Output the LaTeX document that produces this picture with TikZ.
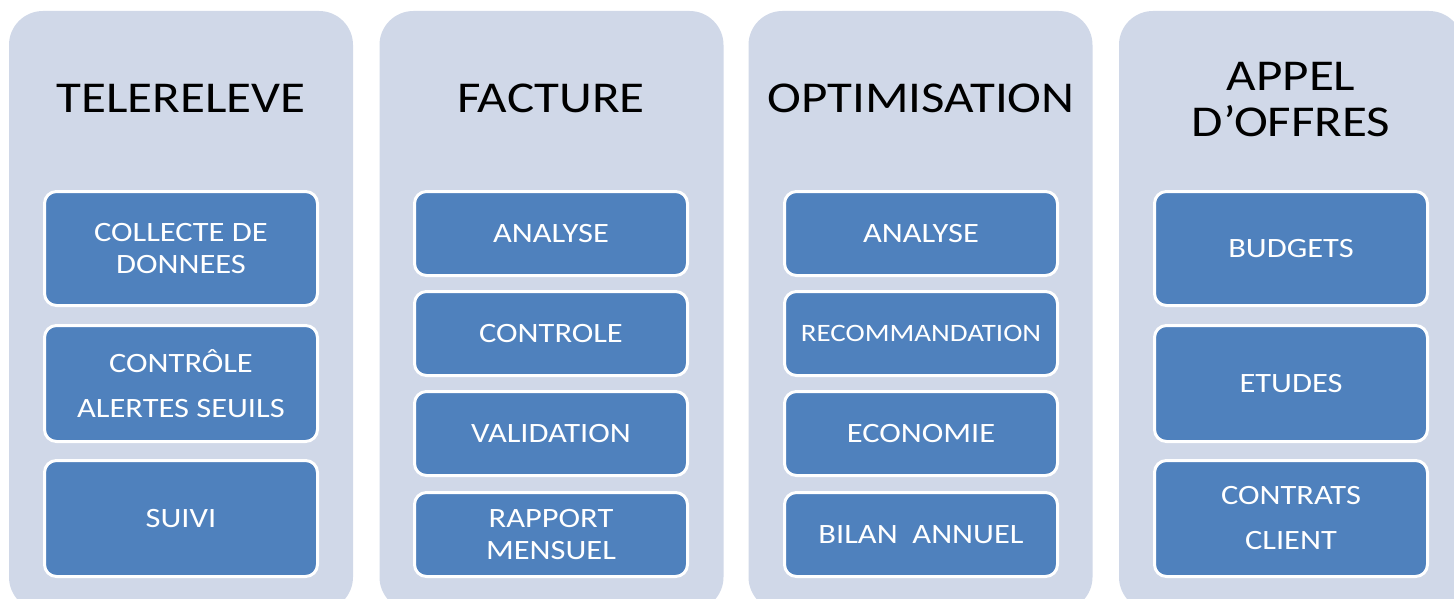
\documentclass[tikz,border=0pt]{standalone}
\usepackage{fontspec}
\setmainfont{Carlito}[FakeStretch=1.16]
\definecolor{panelbg}{HTML}{D0D8E8}
\definecolor{boxblue}{HTML}{4F81BD}
\begin{document}
\begin{tikzpicture}[x=1pt,y=-1pt,
  panel/.style={draw=none, fill=panelbg, rounded corners=34pt, minimum width=344pt, minimum height=600pt, inner sep=0pt},
  item/.style={fill=boxblue, draw=white, line width=3pt, rounded corners=12pt, text=white, align=center, inner sep=0pt, minimum width=273pt, font=\fontsize{28}{32}\selectfont},
  tall/.style={item, minimum height=114pt},
  tall2/.style={item, minimum height=116pt},
  short/.style={item, minimum height=84pt},
  wide/.style={font=\fontsize{28}{45}\selectfont},
  title/.style={align=center, font=\fontsize{44}{47}\selectfont, text=black, inner sep=0pt, anchor=base}]
\useasboundingbox (0,0) rectangle (1454,599);
\clip (0,0) rectangle (1454,599);
\fill[white] (0,0) rectangle (1454,599);
% panels
\node[panel] (p1) at (181,311) {};
\node[panel] (p2) at (551.5,311) {};
\node[panel] (p3) at (920.5,311) {};
\node[panel] (p4) at (1291,311) {};
% titles
\node[title] (t1) at (181,113) {TELERELEVE};
\node[title] (t2) at (551,113) {FACTURE};
\node[title] (t3) at (921,113) {OPTIMISATION};
\node[title] (t4) at (1291,137) {APPEL\\D’OFFRES};
% column 1
\node[tall] (a1) at (181,248.5) {COLLECTE DE\\DONNEES};
\node[tall2,wide] (a2) at (181,383.5) {CONTRÔLE\\ALERTES SEUILS};
\node[tall2] (a3) at (181,518.5) {SUIVI};
% column 2
\node[short] (b1) at (551,233.5) {ANALYSE};
\node[short] (b2) at (551,333.5) {CONTROLE};
\node[short] (b3) at (551,433.5) {VALIDATION};
\node[short] (b4) at (551,534.5) {RAPPORT\\MENSUEL};
% column 3
\node[short] (c1) at (921,233.5) {ANALYSE};
\node[short,font=\fontsize{25}{28}\selectfont] (c2) at (921,333.5) {RECOMMANDATION};
\node[short] (c3) at (921,433.5) {ECONOMIE};
\node[short] (c4) at (921,534.5) {BILAN\ \ ANNUEL};
% column 4
\node[tall] (d1) at (1291,248.5) {BUDGETS};
\node[tall2] (d2) at (1291,383.5) {ETUDES};
\node[tall2,wide] (d3) at (1291,518.5) {CONTRATS\\CLIENT};
\end{tikzpicture}
\end{document}
